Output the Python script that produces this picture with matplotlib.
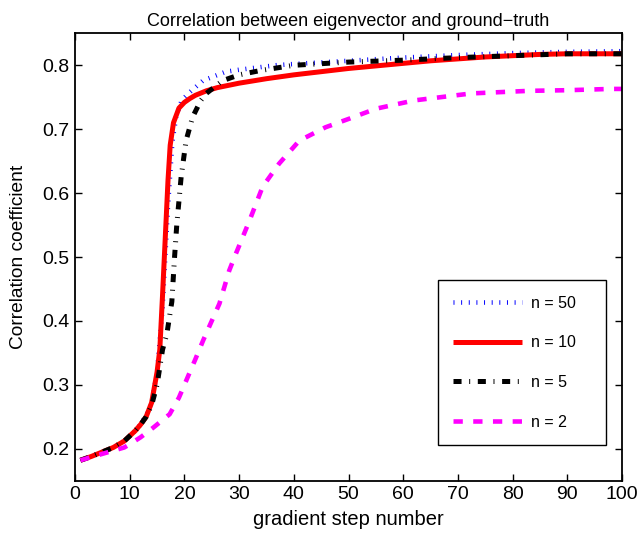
import matplotlib
matplotlib.use('Agg')
import matplotlib.pyplot as plt

plt.rcParams['font.family'] = ['Liberation Sans', 'DejaVu Sans']
plt.rcParams['lines.scale_dashes'] = False

# n = 50
x50 = [1, 3, 5, 7, 9, 11, 12, 13, 14, 15, 16, 17, 17.8, 18.5, 19.5, 21, 23.4, 27.6, 30, 36.7,
       40, 50, 60, 70, 80, 90, 100]
y50 = [0.182, 0.188, 0.195, 0.202, 0.212, 0.228, 0.238, 0.252, 0.272, 0.32, 0.42, 0.58, 0.68,
       0.72, 0.745, 0.758, 0.776, 0.79, 0.793, 0.80, 0.802, 0.807, 0.812, 0.816, 0.819, 0.821, 0.822]

# n = 10
x10 = [1, 3, 5, 7, 9, 11, 12, 13, 14, 15, 15.5, 16, 16.5, 17, 17.4, 18, 19, 20, 21, 22, 24, 26,
       30, 35, 40, 45, 50, 55, 60, 65, 70, 75, 80, 85, 90, 95, 100]
y10 = [0.182, 0.188, 0.195, 0.202, 0.212, 0.228, 0.238, 0.25, 0.272, 0.32, 0.355, 0.44, 0.53,
       0.62, 0.675, 0.71, 0.733, 0.742, 0.748, 0.753, 0.76, 0.765, 0.772, 0.779, 0.785, 0.79,
       0.795, 0.799, 0.803, 0.807, 0.81, 0.813, 0.815, 0.817, 0.818, 0.818, 0.818]

# n = 5
x5 = [1, 3, 5, 7, 9, 11, 12, 13, 14, 15, 16, 16.8, 17.7, 18.2, 18.6, 19.4, 20.3, 21.5, 23, 24,
      27, 30, 34, 40, 50, 60, 70, 80, 90, 100]
y5 = [0.182, 0.188, 0.195, 0.202, 0.212, 0.228, 0.238, 0.25, 0.268, 0.30, 0.355, 0.38, 0.43,
      0.50, 0.55, 0.625, 0.682, 0.719, 0.745, 0.756, 0.776, 0.785, 0.792, 0.80, 0.805, 0.808,
      0.812, 0.815, 0.818, 0.818]

# n = 2
x2 = [1, 3, 5, 7, 9, 10, 12, 14.3, 17.3, 19, 20.3, 22, 23.4, 25, 26.4, 28.2, 29.4, 31.9, 34.3,
      37.3, 41, 45.8, 50, 55, 62, 72.5, 83, 90, 98, 100]
y2 = [0.182, 0.187, 0.192, 0.197, 0.202, 0.207, 0.218, 0.233, 0.254, 0.28, 0.306, 0.34, 0.369,
      0.40, 0.427, 0.479, 0.505, 0.557, 0.61, 0.646, 0.682, 0.703, 0.716, 0.732, 0.745, 0.756,
      0.76, 0.761, 0.763, 0.763]

labels = ['n = 50', 'n = 10', 'n = 5', 'n = 2']

fig = plt.figure(figsize=(6.4, 5.34), dpi=100)
ax = fig.add_axes([0.1172, 0.0998, 0.8547, 0.8378])

ax.plot(x50, y50, color='blue', lw=3.3, dashes=(0.7, 4.8), dash_capstyle='butt', label=labels[0])
ax.plot(x10, y10, color='red', lw=3.6, solid_capstyle='butt', label=labels[1])
ax.plot(x5, y5, color='black', lw=3.6, dashes=(5.8, 5.5, 0.7, 5.5), dash_capstyle='butt',
        label=labels[2])
ax.plot(x2, y2, color='magenta', lw=3.3, dashes=(6.7, 7.5), dash_capstyle='butt', label=labels[3])

ax.set_xlim(0, 100)
ax.set_ylim(0.15, 0.85)
ax.set_xticks(range(0, 101, 10))
ax.set_yticks([0.2, 0.3, 0.4, 0.5, 0.6, 0.7, 0.8])
ax.tick_params(direction='in', length=5, width=1, top=True, right=True, labelsize=14, pad=4)
for s in ax.spines.values():
    s.set_linewidth(1.3)

ax.set_title('Correlation between eigenvector and ground−truth', fontsize=13, pad=5)
ax.set_xlabel('gradient step number', fontsize=14.5, labelpad=5)
ax.set_ylabel('Correlation coefficient', fontsize=13.8, labelpad=11)

leg = ax.legend(loc='lower left', bbox_to_anchor=(0.663, 0.0798, 0.308, 0.385), mode='expand',
                borderaxespad=0, fontsize=11.5, handlelength=4.3, handletextpad=0.6,
                labelspacing=1.55, borderpad=0.95, fancybox=False, framealpha=1)
leg.get_frame().set_edgecolor('black')
leg.get_frame().set_linewidth(1.0)

fig.savefig('out.png', dpi=100)
